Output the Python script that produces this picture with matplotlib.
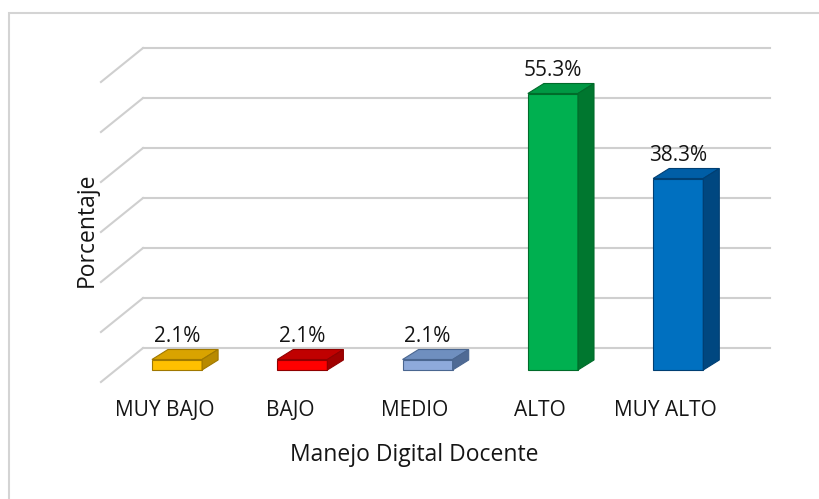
import matplotlib.pyplot as plt
from matplotlib.patches import Polygon, Rectangle

categorias = ['MUY BAJO', 'BAJO', 'MEDIO', 'ALTO', 'MUY ALTO']
valores = [2.1, 2.1, 2.1, 55.3, 38.3]
etiquetas = ['2.1%', '2.1%', '2.1%', '55.3%', '38.3%']
ticks_y = [0, 10, 20, 30, 40, 50, 60]

# colores: frente, tapa, lateral
frente = ['#FFC000', '#FF0000', '#8EAADB', '#00B050', '#0070C0']
tapa = ['#D9A300', '#C00000', '#6F8FBF', '#009844', '#005EA6']
lateral = ['#B88A00', '#A00000', '#4F6A94', '#00772F', '#004780']
borde = ['#A07800', '#900000', '#4A6690', '#006B2A', '#003F73']

plt.rcParams['font.family'] = ['Open Sans', 'DejaVu Sans']

fig = plt.figure(figsize=(8.2, 4.99), dpi=100)
ax = fig.add_axes([0, 0, 1, 1])
ax.set_xlim(-1.4126, 5.1317)
ax.set_ylim(-25.8, 74)
ax.axis('off')

# marco exterior
fig.patches.append(Rectangle((9 / 820, -0.05), 1.0, 1 - 13 / 499 + 0.05,
                             transform=fig.transFigure, fill=False,
                             edgecolor='#D4D4D4', linewidth=1.5))

# rejilla en perspectiva
gris = '#CFCFCF'
x_pared_f, x_pared_b, x_fin = -0.607, -0.271, 4.73
dy_pared_f, dy_pared_b = -2.4, 4.4
for v in ticks_y:
    ax.plot([x_pared_f, x_pared_b], [v + dy_pared_f, v + dy_pared_b], color=gris, lw=1.5, zorder=1)
    ax.plot([x_pared_b, x_fin], [v + dy_pared_b, v + dy_pared_b], color=gris, lw=1.5, zorder=1)

# barras 3D
ancho = 0.4
dx, dy = 0.128, 2.0
for i, v in enumerate(valores):
    izq, der = i - ancho / 2, i + ancho / 2
    ax.bar(i, v, width=ancho, color=frente[i], edgecolor=borde[i], linewidth=0.8, zorder=3)
    ax.add_patch(Polygon([(izq, v), (der, v), (der + dx, v + dy), (izq + dx, v + dy)],
                         closed=True, facecolor=tapa[i], edgecolor=borde[i], lw=0.8, zorder=3))
    ax.add_patch(Polygon([(der, 0), (der + dx, dy), (der + dx, v + dy), (der, v)],
                         closed=True, facecolor=lateral[i], edgecolor=borde[i], lw=0.8, zorder=3))
    ax.text(i, v + dy + 2.6, etiquetas[i], ha='center', va='center',
            fontsize=15, color='#151515', zorder=4)
    ax.text(i - 0.1, -8.2, categorias[i], ha='center', va='center',
            fontsize=15, color='#151515')

ax.text(1.89, -17, 'Manejo Digital Docente', ha='center', va='center',
        fontsize=16.5, color='#151515')
ax.text(-0.72, 28, 'Porcentaje', ha='center', va='center', rotation=90,
        fontsize=16.5, color='#151515')

fig.savefig('out.png', dpi=100)
